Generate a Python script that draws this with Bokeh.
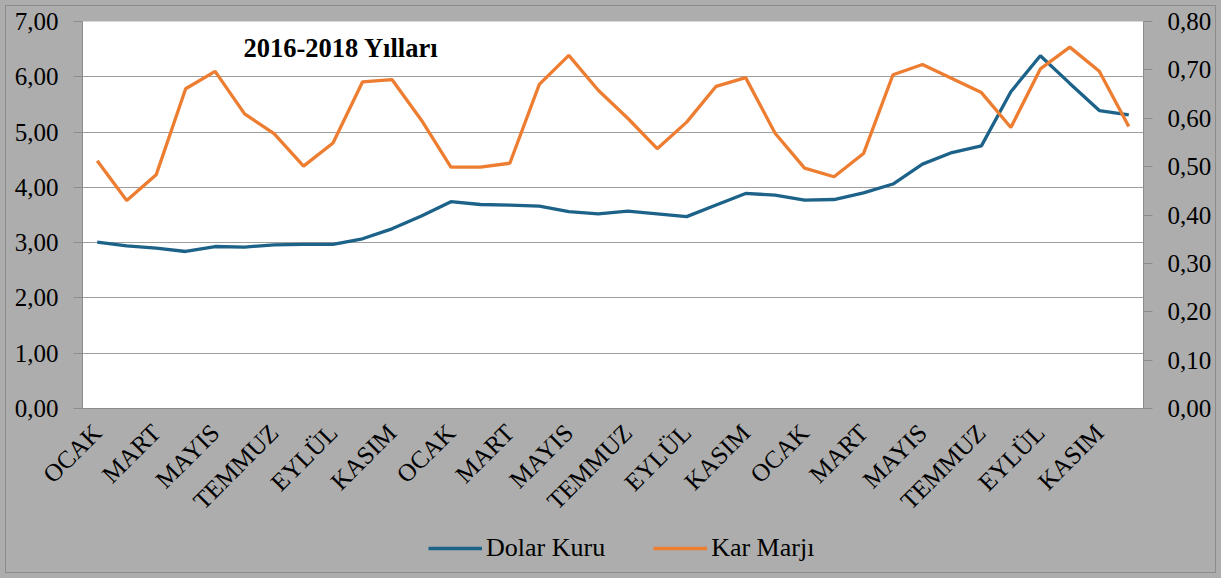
from bokeh.plotting import figure
from bokeh.layouts import column
from bokeh.models import Range1d, LinearAxis, FixedTicker, Legend, LegendItem, Label
from bokeh.embed import file_html
from bokeh.resources import INLINE

# ---------------- data ----------------
months = ["OCAK", "ŞUBAT", "MART", "NİSAN", "MAYIS", "HAZİRAN",
          "TEMMUZ", "AĞUSTOS", "EYLÜL", "EKİM", "KASIM", "ARALIK"] * 3

dolar_kuru = [3.01, 2.94, 2.90, 2.84, 2.93, 2.92, 2.96, 2.97, 2.97, 3.07, 3.25, 3.48,
              3.74, 3.69, 3.68, 3.66, 3.56, 3.52, 3.57, 3.52, 3.47, 3.68, 3.89, 3.86,
              3.77, 3.78, 3.90, 4.06, 4.42, 4.63, 4.75, 5.73, 6.38, 5.88, 5.39, 5.31]

kar_marji = [0.512, 0.430, 0.483, 0.661, 0.697, 0.609, 0.568, 0.501, 0.549, 0.675, 0.680, 0.596,
             0.499, 0.499, 0.507, 0.670, 0.730, 0.658, 0.600, 0.537, 0.592, 0.666, 0.684, 0.569,
             0.497, 0.479, 0.527, 0.690, 0.711, 0.682, 0.653, 0.581, 0.702, 0.747, 0.697, 0.583]

left_ticks = [0, 1, 2, 3, 4, 5, 6, 7]
left_tick_labels = ["0,00", "1,00", "2,00", "3,00", "4,00", "5,00", "6,00", "7,00"]
right_ticks = [0.0, 0.1, 0.2, 0.3, 0.4, 0.5, 0.6, 0.7, 0.8]
right_tick_labels = ["0,00", "0,10", "0,20", "0,30", "0,40", "0,50", "0,60", "0,70", "0,80"]

series_names = ["Dolar Kuru", "Kar Marjı"]
title_text = "2016-2018 Yılları"

# ---------------- style ----------------
BLUE = "#1D6389"
ORANGE = "#ED7D31"
BG = "#ADADAD"
GRID = "#9E9E9E"
AXIS = "#8C8C8C"
FONT = "Liberation Serif"
TICK_SIZE = "25px"

x = list(range(len(months)))
x_ticks = x[::2]
x_labels = {i: months[i] for i in x_ticks}

p = figure(width=1221, height=533, output_backend="svg", toolbar_location=None,
           x_range=Range1d(-0.5, len(months) - 0.5), y_range=Range1d(0, 7),
           min_border_left=82, min_border_right=78, min_border_top=21,
           min_border_bottom=125)
p.extra_y_ranges = {"right": Range1d(0, 0.8)}

p.background_fill_color = "white"
p.border_fill_alpha = 0          # gray comes from the page container below
p.outline_line_color = None

r1 = p.line(x, dolar_kuru, line_color=BLUE, line_width=3.3)
r2 = p.line(x, kar_marji, line_color=ORANGE, line_width=3.3, y_range_name="right")

# grid
p.xgrid.visible = False
p.ygrid.ticker = FixedTicker(ticks=left_ticks)
p.ygrid.grid_line_color = GRID
p.ygrid.grid_line_width = 1.2

# left axis
ya = p.yaxis[0]
ya.ticker = FixedTicker(ticks=left_ticks)
ya.major_label_overrides = dict(zip(left_ticks, left_tick_labels))

# right axis
ra = LinearAxis(y_range_name="right", ticker=FixedTicker(ticks=right_ticks))
ra.major_label_overrides = dict(zip(right_ticks, right_tick_labels))
p.add_layout(ra, "right")

for ax in (ya, ra):
    ax.axis_line_color = AXIS
    ax.major_tick_line_color = AXIS
    ax.major_tick_out = 9
    ax.major_tick_in = 0
    ax.minor_tick_line_color = None
    ax.major_label_text_font = FONT
    ax.major_label_text_font_size = TICK_SIZE
    ax.major_label_text_color = "black"
    ax.major_label_standoff = 15

# x axis
xa = p.xaxis[0]
xa.ticker = FixedTicker(ticks=x_ticks)
xa.major_label_overrides = x_labels
xa.major_label_orientation = 0.785398
xa.axis_line_color = AXIS
xa.major_tick_line_color = None
xa.minor_tick_line_color = None
xa.major_tick_out = 0
xa.major_label_standoff = 20
xa.major_label_text_font = FONT
xa.major_label_text_font_size = TICK_SIZE
xa.major_label_text_color = "black"

# title inside plot area
p.add_layout(Label(x=161, y=361, x_units="screen", y_units="screen", text=title_text,
                   text_font=FONT, text_font_style="bold", text_font_size="26.5px",
                   text_color="black", text_baseline="middle"))

# ---------------- legend strip (separate figure below) ----------------
lg = figure(width=1221, height=45, output_backend="svg", toolbar_location=None,
            x_range=Range1d(-0.5, len(months) - 0.5), y_range=Range1d(100, 101),
            x_axis_location=None, y_axis_location=None,
            min_border_left=82, min_border_right=78, min_border_top=0, min_border_bottom=0)
lg.background_fill_alpha = 0
lg.border_fill_alpha = 0
lg.outline_line_color = None
lg.grid.visible = False
# same series, outside this strip's visible range: they only supply the legend keys
k1 = lg.line(x, dolar_kuru, line_color=BLUE, line_width=3.3)
k2 = lg.line(x, kar_marji, line_color=ORANGE, line_width=3.3)

legend = Legend(items=[LegendItem(label=series_names[0], renderers=[k1]),
                       LegendItem(label=series_names[1], renderers=[k2])],
                orientation="horizontal", location=(346, 15),
                glyph_width=54, glyph_height=30, label_height=30, label_standoff=4,
                spacing=48, padding=0, margin=0,
                border_line_color=None, background_fill_alpha=0,
                label_text_font=FONT, label_text_font_size="26px",
                label_text_color="black")
lg.add_layout(legend)

layout = column(p, lg, spacing=0)
layout.styles = {"background-color": BG, "outline": "1.5px solid #8C8C8C",
                 "outline-offset": "-6px"}
open("out.html", "w").write(file_html(layout, INLINE))
